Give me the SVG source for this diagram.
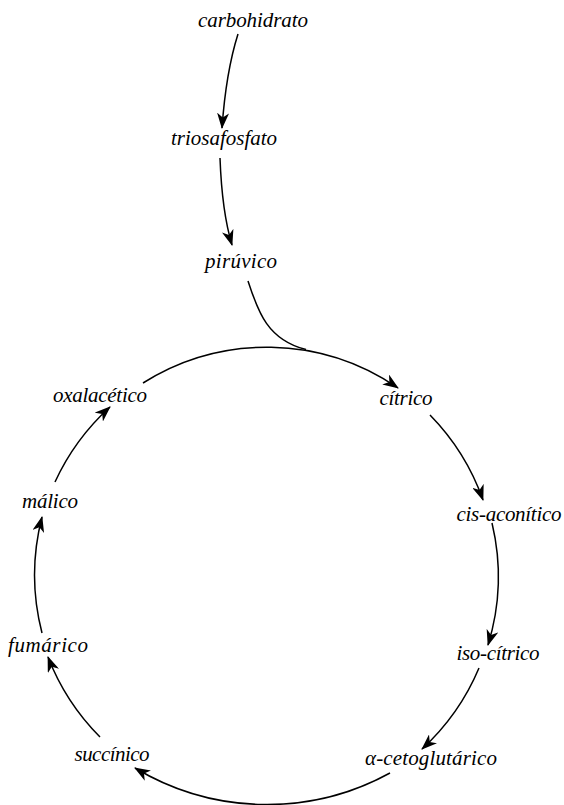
<svg xmlns="http://www.w3.org/2000/svg" width="564" height="805" viewBox="0 0 564 805">
<style>
.lbl{font-family:"Liberation Serif","Times New Roman",serif;font-style:italic;font-size:21px;fill:#000;text-anchor:middle}
.c{fill:none;stroke:#000;stroke-width:1.5}
</style>
<defs>
<marker id="ah" viewBox="0 0 16 12" refX="15" refY="6" markerWidth="16" markerHeight="12" markerUnits="userSpaceOnUse" orient="auto">
<path d="M0,0 L16,6 L0,12 L4.5,6 Z" fill="#000"/>
</marker>
</defs>
<rect width="564" height="805" fill="#fff"/>
<g id="connectors">
<path class="c" d="M238,34 Q226,72 222,128" marker-end="url(#ah)"/>
<path class="c" d="M220,158 Q222,212 232,245" marker-end="url(#ah)"/>
<path class="c" d="M248,281 C258,312 268,340 306,349.5"/>
<path class="c" d="M143,383 A232,232 0 0 1 398,388" marker-end="url(#ah)"/>
<path class="c" d="M430,415 A232,232 0 0 1 483,500" marker-end="url(#ah)"/>
<path class="c" d="M492,523 A232,232 0 0 1 488,645" marker-end="url(#ah)"/>
<path class="c" d="M479,668 A232,232 0 0 1 422,749" marker-end="url(#ah)"/>
<path class="c" d="M390,773 A256,256 0 0 1 135,768" marker-end="url(#ah)"/>
<path class="c" d="M100,737 A232,232 0 0 1 48,657" marker-end="url(#ah)"/>
<path class="c" d="M42,633 A232,232 0 0 1 42,517" marker-end="url(#ah)"/>
<path class="c" d="M55,482 A232,232 0 0 1 110,407" marker-end="url(#ah)"/>
</g>
<g id="carbohidrato"><text class="lbl" x="253" y="27" textLength="110">carbohidrato</text></g>
<g id="triosafosfato"><text class="lbl" x="224" y="145" textLength="106">triosafosfato</text></g>
<g id="piruvico"><text class="lbl" x="241" y="268" textLength="72">pirúvico</text></g>
<g id="citrico"><text class="lbl" x="406" y="405" textLength="53">cítrico</text></g>
<g id="cis-aconitico"><text class="lbl" x="509" y="521" textLength="105">cis-aconítico</text></g>
<g id="iso-citrico"><text class="lbl" x="498" y="660" textLength="83">iso-cítrico</text></g>
<g id="alfa-cetoglutarico"><text class="lbl" x="431" y="765" textLength="132">α-cetoglutárico</text></g>
<g id="succinico"><text class="lbl" x="112" y="761" textLength="75">succínico</text></g>
<g id="fumarico"><text class="lbl" x="48" y="652" textLength="80">fumárico</text></g>
<g id="malico"><text class="lbl" x="50" y="508" textLength="56">málico</text></g>
<g id="oxalacetico"><text class="lbl" x="100" y="402" textLength="94">oxalacético</text></g>
</svg>
